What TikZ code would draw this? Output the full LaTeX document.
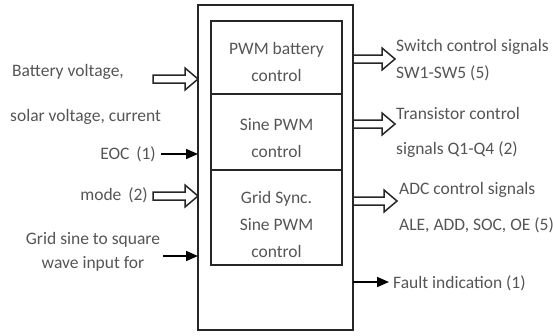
\documentclass[tikz,border=0pt]{standalone}
\usepackage{fontspec}
\setmainfont{Carlito}
\usetikzlibrary{arrows.meta}
\definecolor{txt}{RGB}{85,85,85}
\tikzset{
  x=1pt,y=-1pt,
  lbl/.style={text=txt,font=\fontsize{17.5}{27}\selectfont,inner sep=0pt},
  box/.style={draw=black!85,line width=1.7pt},
  thin/.style={-{Triangle[length=12pt,width=10pt]},line width=1.7pt},
  fat/.style={draw=black!85,line width=1.5pt,fill=white,line join=miter},
}
% hollow block arrow from (x1,y) to (x2,y)
\newcommand{\blockarrow}[3]{%
  \draw[fat] (#1,#3-4) -- (#2-13,#3-4) -- (#2-13,#3-11) -- (#2,#3) -- (#2-13,#3+11) -- (#2-13,#3+4) -- (#1,#3+4) -- cycle;}
\begin{document}
\begin{tikzpicture}
\useasboundingbox (0,0) rectangle (553,335);
% outer box
\draw[box] (198,5) rectangle (353,330);
% inner boxes
\draw[box] (211,21) rectangle (342,94);
\draw[box] (211,94) rectangle (342,170);
\draw[box] (211,170) rectangle (342,265);
\node[lbl,align=center] (b1) at (276.5,61.5) {PWM battery\\control};
\node[lbl,align=center] (b2) at (276.5,138.5) {Sine PWM\\control};
\node[lbl,align=center] (b3) at (276.5,224.5) {Grid Sync.\\Sine PWM\\control};
% left inputs
\node[lbl,anchor=west] (bv) at (12,72) {Battery voltage,};
\node[lbl,anchor=west] (sv) at (10,117) {solar voltage, current};
\blockarrow{153}{198}{79}
\node[lbl,anchor=east] (eoc) at (156,154) {EOC\, (1)};
\coordinate (eocend) at (198,154);
\draw[thin] ([xshift=5pt]eoc.east) -- (eocend);
\node[lbl,anchor=east] (mode) at (148,195) {mode\, (2)};
\blockarrow{153}{198}{196}
\node[lbl,align=center,font=\fontsize{17.5}{24}\selectfont] (grid) at (93,252) {Grid sine to square\\wave input for};
\coordinate (gridstart) at (163,256);
\coordinate (gridend) at (198,256);
\draw[thin] (gridstart) -- (gridend);
% right outputs
\blockarrow{353}{395}{59}
\node[lbl,anchor=west] (sw) at (396,47) {Switch control signals};
\node[lbl,anchor=west] (sw2) at (396,73) {SW1-SW5 (5)};
\blockarrow{353}{395}{124}
\node[lbl,anchor=west] (tr) at (396,113) {Transistor control};
\node[lbl,anchor=west] (tr2) at (396,150) {signals Q1-Q4 (2)};
\blockarrow{353}{397}{201}
\node[lbl,anchor=west] (adc) at (399,190) {ADC control signals};
\node[lbl,anchor=west] (adc2) at (399,225) {ALE, ADD, SOC, OE (5)};
\node[lbl,anchor=west] (fault) at (393,283) {Fault indication (1)};
\coordinate (faultstart) at (353,282);
\draw[thin] (faultstart) -- ([xshift=-4pt]fault.west |- faultstart);
\end{tikzpicture}
\end{document}
